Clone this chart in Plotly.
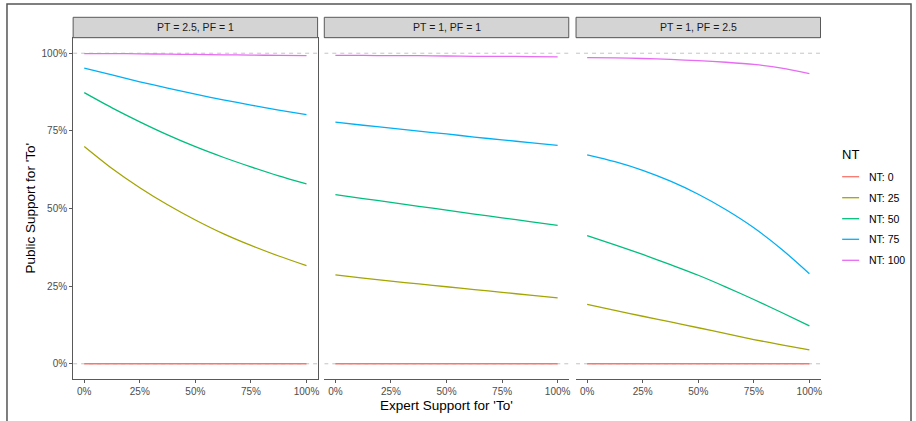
import plotly.graph_objects as go

# ---------------- data ----------------
expert_support = [0.0, 0.125, 0.25, 0.375, 0.5, 0.625, 0.75, 0.875, 1.0]
panel_titles = ["PT = 2.5, PF = 1", "PT = 1, PF = 1", "PT = 1, PF = 2.5"]
nt_labels = ["NT: 0", "NT: 25", "NT: 50", "NT: 75", "NT: 100"]
nt_colors = ["#F8766D", "#A3A500", "#00BF7D", "#00B0F6", "#E76BF3"]
legend_title = "NT"

# panel 1: PT = 2.5, PF = 1
p1_nt0 = [0.0, 0.0, 0.0, 0.0, 0.0, 0.0, 0.0, 0.0, 0.0]
p1_nt25 = [0.700, 0.629, 0.567, 0.512, 0.463, 0.419, 0.381, 0.347, 0.316]
p1_nt50 = [0.873, 0.824, 0.779, 0.737, 0.699, 0.665, 0.634, 0.605, 0.579]
p1_nt75 = [0.952, 0.930, 0.908, 0.888, 0.868, 0.850, 0.833, 0.817, 0.802]
p1_nt100 = [0.999, 0.999, 0.998, 0.997, 0.996, 0.995, 0.994, 0.993, 0.992]

# panel 2: PT = 1, PF = 1
p2_nt0 = [0.0, 0.0, 0.0, 0.0, 0.0, 0.0, 0.0, 0.0, 0.0]
p2_nt25 = [0.286, 0.276, 0.266, 0.257, 0.248, 0.239, 0.230, 0.221, 0.212]
p2_nt50 = [0.545, 0.532, 0.520, 0.507, 0.495, 0.482, 0.470, 0.458, 0.446]
p2_nt75 = [0.778, 0.768, 0.759, 0.749, 0.740, 0.730, 0.721, 0.712, 0.703]
p2_nt100 = [0.993, 0.993, 0.992, 0.992, 0.991, 0.990, 0.990, 0.989, 0.988]

# panel 3: PT = 1, PF = 2.5
p3_nt0 = [0.0, 0.0, 0.0, 0.0, 0.0, 0.0, 0.0, 0.0, 0.0]
p3_nt25 = [0.191, 0.172, 0.153, 0.135, 0.116, 0.097, 0.078, 0.061, 0.045]
p3_nt50 = [0.413, 0.383, 0.352, 0.319, 0.285, 0.247, 0.207, 0.165, 0.122]
p3_nt75 = [0.673, 0.651, 0.623, 0.588, 0.546, 0.496, 0.438, 0.369, 0.290]
p3_nt100 = [0.986, 0.985, 0.983, 0.980, 0.976, 0.971, 0.964, 0.952, 0.934]

panels = [
    [p1_nt0, p1_nt25, p1_nt50, p1_nt75, p1_nt100],
    [p2_nt0, p2_nt25, p2_nt50, p2_nt75, p2_nt100],
    [p3_nt0, p3_nt25, p3_nt50, p3_nt75, p3_nt100],
]
tick_vals = [0, 0.25, 0.5, 0.75, 1.0]
tick_text = ["0%", "25%", "50%", "75%", "100%"]
ref_levels = [0.0, 1.0]

# ---------------- layout geometry (pixels) ----------------
W, H = 916, 421
panel_px = [(73.3, 318.3), (325.0, 570.0), (577.3, 822.3)]
plot_top, plot_bot = 37.7, 379.3
strip_top = 17.3
FONT = "Liberation Sans, Arial, sans-serif"
BORDER = "#595959"

def px(x):
    return x / W

def py(y):
    return 1 - y / H

fig = go.Figure()

for i, series in enumerate(panels):
    xa = "x" if i == 0 else f"x{i+1}"
    # dashed reference lines at 0% and 100%
    for lv in ref_levels:
        fig.add_trace(go.Scatter(
            x=[-0.05, 1.05], y=[lv, lv], mode="lines", xaxis=xa, yaxis="y",
            line=dict(color="#c4c4c4", width=1, dash="4px,4px"),
            showlegend=False, hoverinfo="skip"))
    for j, vals in enumerate(series):
        fig.add_trace(go.Scatter(
            x=expert_support, y=vals, mode="lines", xaxis=xa, yaxis="y",
            line=dict(color=nt_colors[j], width=1.3, shape="spline", smoothing=0.8),
            name=nt_labels[j], legendgroup=nt_labels[j], showlegend=False))

axis_common = dict(
    range=[-0.05, 1.05], tickvals=tick_vals, ticktext=tick_text,
    showgrid=False, zeroline=False, showline=True, mirror=True,
    linecolor=BORDER, linewidth=1, ticks="outside", ticklen=3,
    tickcolor=BORDER, tickwidth=1,
    tickfont=dict(family=FONT, size=10, color="#4d4d4d"),
)

for i, (l, r) in enumerate(panel_px):
    key = "xaxis" if i == 0 else f"xaxis{i+1}"
    fig.layout[key] = dict(axis_common, domain=[px(l), px(r)], anchor="y")

fig.layout["yaxis"] = dict(axis_common, domain=[py(plot_bot), py(plot_top)], anchor="x")

shapes = []
annotations = []
# facet strips
for i, (l, r) in enumerate(panel_px):
    shapes.append(dict(type="rect", xref="paper", yref="paper",
                       x0=px(l), x1=px(r), y0=py(plot_top), y1=py(strip_top),
                       fillcolor="#d4d4d4", line=dict(color=BORDER, width=1), layer="above"))
    annotations.append(dict(xref="paper", yref="paper", x=px((l + r) / 2),
                            y=py((strip_top + plot_top) / 2), text=panel_titles[i],
                            showarrow=False, xanchor="center", yanchor="middle",
                            font=dict(family=FONT, size=10.5, color="#1a1a1a")))

# outer frame
shapes.append(dict(type="rect", xref="paper", yref="paper",
                   x0=px(7), x1=px(913), y0=py(430), y1=py(4),
                   line=dict(color="#555555", width=1.5), fillcolor="rgba(0,0,0,0)"))

# axis titles
annotations.append(dict(xref="paper", yref="paper", x=px(447.5), y=py(405),
                        text="Expert Support for 'To'", showarrow=False,
                        xanchor="center", yanchor="middle",
                        font=dict(family=FONT, size=13.5, color="#000000")))
annotations.append(dict(xref="paper", yref="paper", x=px(30.5), y=py(208),
                        text="Public Support for 'To'", showarrow=False, textangle=-90,
                        xanchor="center", yanchor="middle",
                        font=dict(family=FONT, size=13.5, color="#000000")))

# legend (ggplot-style guide)
annotations.append(dict(xref="paper", yref="paper", x=px(842), y=py(154),
                        text=legend_title, showarrow=False, xanchor="left", yanchor="middle",
                        font=dict(family=FONT, size=13, color="#000000")))
legend_y = [176.7, 197.7, 218.7, 239.3, 260.3]
for j, lab in enumerate(nt_labels):
    shapes.append(dict(type="line", xref="paper", yref="paper",
                       x0=px(844), x1=px(861), y0=py(legend_y[j]), y1=py(legend_y[j]),
                       line=dict(color=nt_colors[j], width=1.3)))
    annotations.append(dict(xref="paper", yref="paper", x=px(868.5), y=py(legend_y[j]),
                            text=lab, showarrow=False, xanchor="left", yanchor="middle",
                            font=dict(family=FONT, size=10.5, color="#000000")))

fig.update_layout(
    width=W, height=H,
    margin=dict(l=0, r=0, t=0, b=0),
    paper_bgcolor="white", plot_bgcolor="white",
    shapes=shapes, annotations=annotations,
    showlegend=False,
)

fig.write_html("out.html", config={"displayModeBar": False},
               post_script="document.body.style.margin='0px';")
